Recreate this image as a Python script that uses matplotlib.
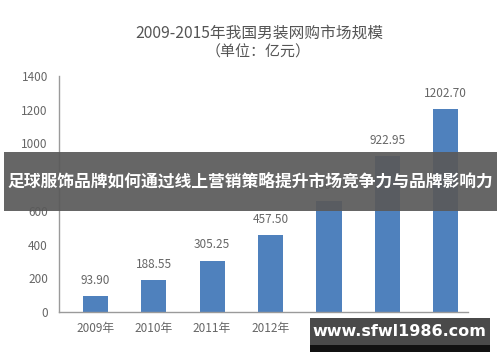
"""Bar chart: 2009-2015 men's wear online market size, with banner overlay."""

import matplotlib
matplotlib.use("Agg")
import matplotlib.pyplot as plt
from matplotlib.patches import Rectangle

plt.rcParams["font.family"] = ["Noto Sans CJK SC", "DejaVu Sans"]

years = ["2009年", "2010年", "2011年", "2012年", "2013年", "2014年", "2015年"]
values = [93.90, 188.55, 305.25, 457.50, 660.00, 922.95, 1202.70]
value_labels = ["93.90", "188.55", "305.25", "457.50", "660.00", "922.95", "1202.70"]
yticks = [0, 200, 400, 600, 800, 1000, 1200, 1400]

title = "2009-2015年我国男装网购市场规模"
subtitle = "（单位：亿元）"
banner = "足球服饰品牌如何通过线上营销策略提升市场竞争力与品牌影响力"
watermark = "www.sfwl1986.com"

BAR = "#4f81bd"
GRAY = "#666666"

fig = plt.figure(figsize=(5.0, 3.62), dpi=100)
fig.patch.set_facecolor("white")
ax = fig.add_axes([0.118, 0.138, 0.818, 0.652])

x = list(range(len(years)))
ax.bar(x, values, width=0.43, color=BAR, zorder=2)
for xi, v, lab in zip(x, values, value_labels):
    ax.text(xi, v + 55, lab, ha="center", va="bottom", fontsize=8.5, color=GRAY)

ax.set_xlim(-0.62, 6.38)
ax.set_ylim(0, 1400)
ax.set_yticks(yticks)
ax.set_yticklabels([str(t) for t in yticks])
ax.set_xticks(x)
ax.set_xticklabels(years)
ax.tick_params(axis="both", length=0, labelsize=8.5, labelcolor=GRAY)
ax.tick_params(axis="y", pad=8)
ax.tick_params(axis="x", pad=7)
for side in ("top", "right"):
    ax.spines[side].set_visible(False)
for side in ("left", "bottom"):
    ax.spines[side].set_color("#9a9a9a")
    ax.spines[side].set_linewidth(1.0)

fig.text(0.518, 0.908, title, ha="center", va="center", fontsize=11.3, color="#555555")
fig.text(0.516, 0.855, subtitle, ha="center", va="center", fontsize=10.8, color="#555555")

# banner overlay across the chart
fig.patches.append(Rectangle((0.008, 0.417), 0.986, 0.163, transform=fig.transFigure,
                             facecolor="#5a5a5a", alpha=0.93, zorder=5))
fig.text(0.5, 0.498, banner, ha="center", va="center", fontsize=12.1,
         color="white", fontweight="bold", zorder=6)

# watermark box bottom right
fig.patches.append(Rectangle((0.62, 0.028), 0.36, 0.094, transform=fig.transFigure,
                             facecolor="#111111", zorder=5))
fig.patches.append(Rectangle((0.62, 0.047), 0.36, 0.075, transform=fig.transFigure,
                             facecolor="#4a4a4a", zorder=5))
fig.text(0.798, 0.083, watermark, ha="center", va="center", fontsize=11.5,
         color="white", fontweight="bold", family=["DejaVu Sans"], zorder=6)

fig.savefig("out.png", dpi=100)
plt.close(fig)
